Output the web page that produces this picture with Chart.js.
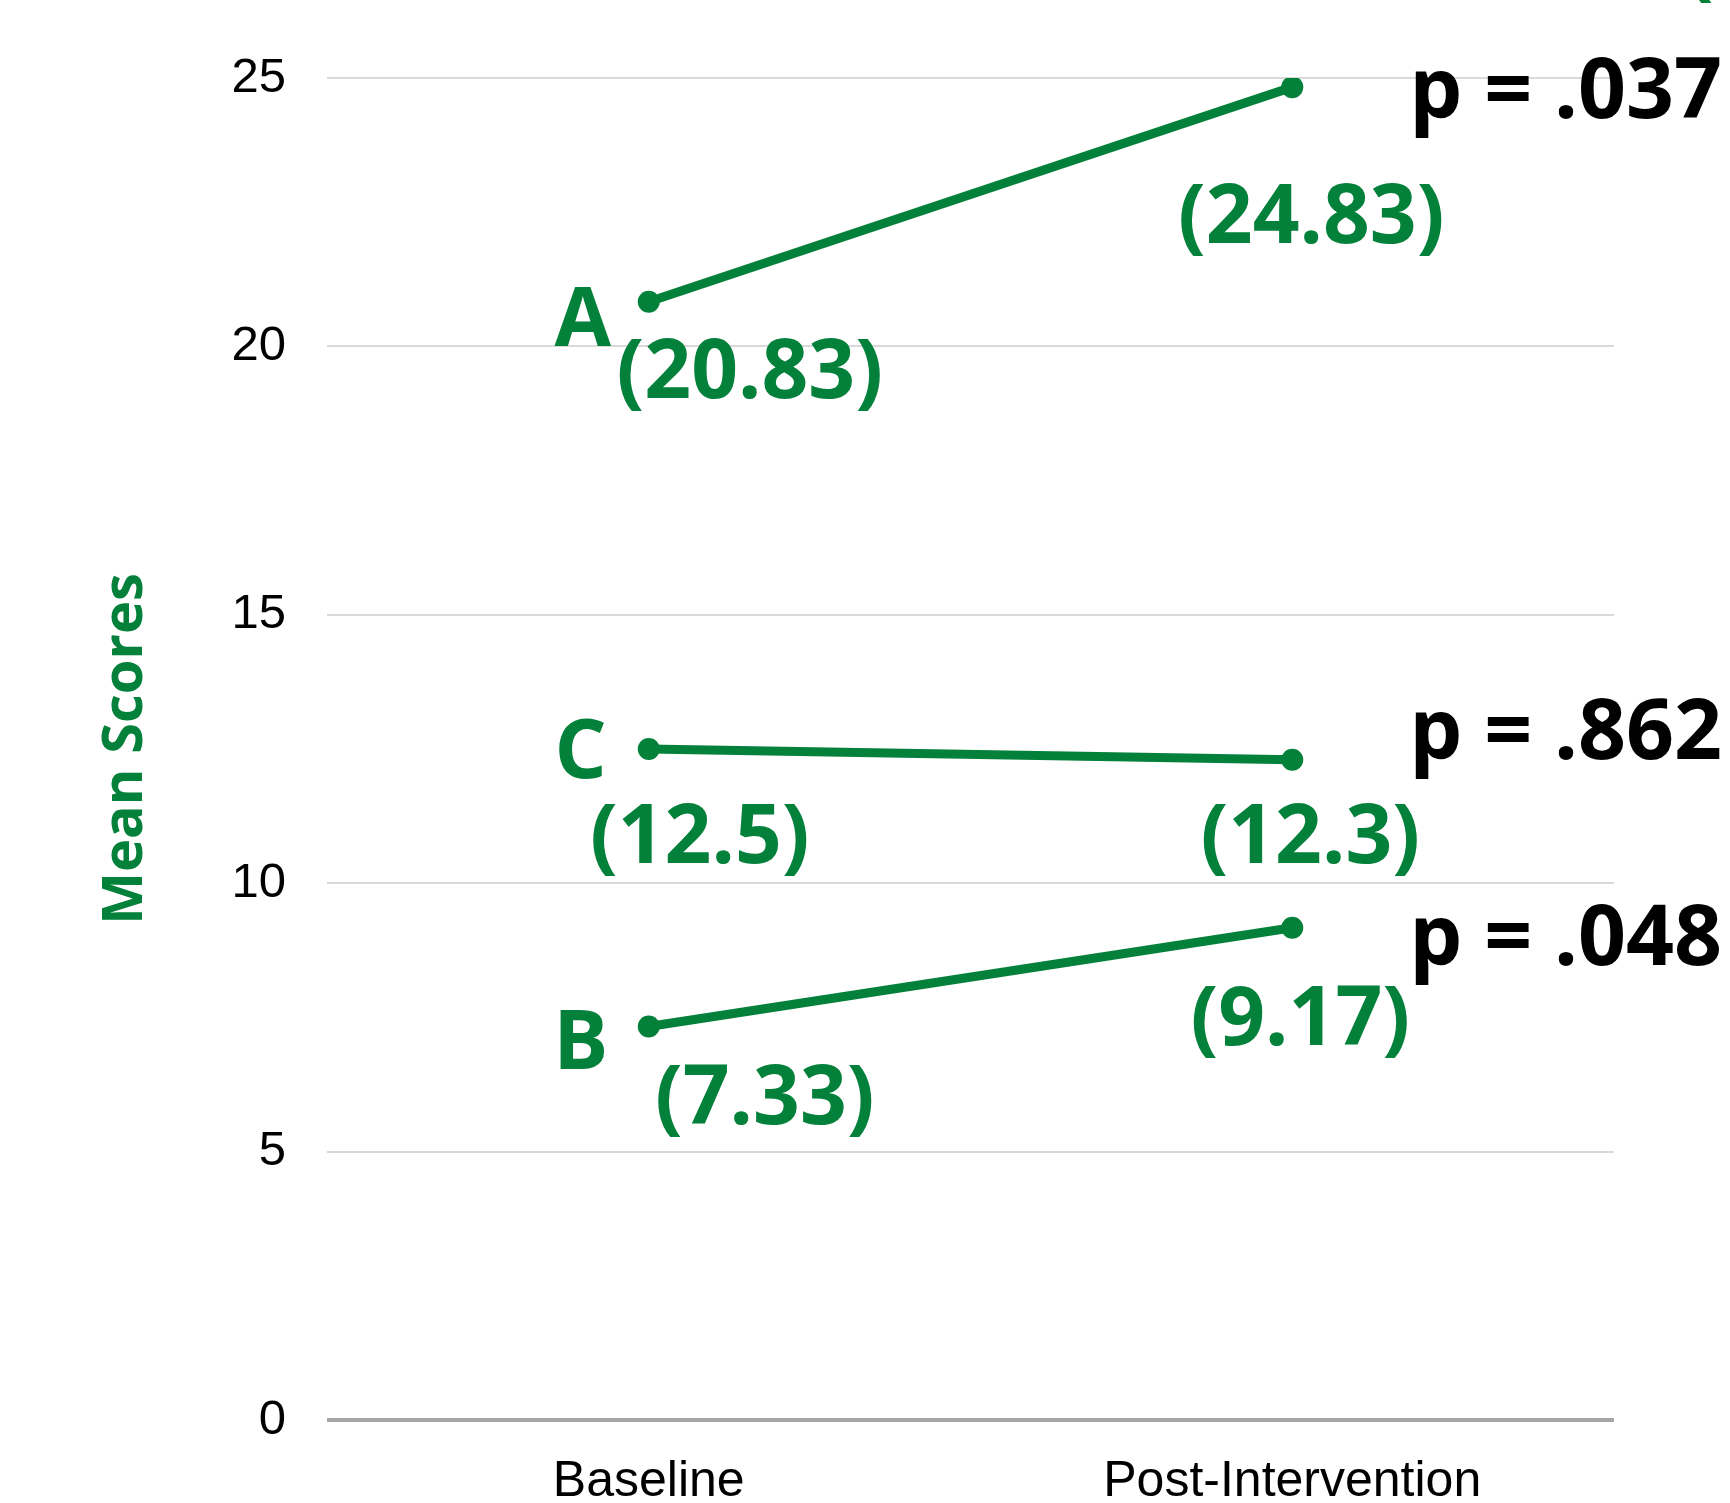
<!DOCTYPE html>
<html>
<head>
<meta charset="utf-8">
<script src="https://cdn.jsdelivr.net/npm/chart.js@4.4.0/dist/chart.umd.min.js"></script>
<style>
  html, body { margin: 0; padding: 0; background: #ffffff; }
  #wrap { width: 1730px; height: 1503px; }
</style>
</head>
<body>
<div id="wrap"><canvas id="chart" width="1730" height="1503"></canvas></div>
<script>
'use strict';

// ── DATA ──────────────────────────────────────────────────────────────────────
const categories = ['Baseline', 'Post-Intervention'];
const groupNames = ['A', 'C', 'B'];
const scoresA    = [20.83, 24.83];
const scoresC    = [12.5, 12.3];
const scoresB    = [7.33, 9.17];
const pValues    = ['.037', '.862', '.048'];
const yTicks     = [0, 5, 10, 15, 20, 25];

// ── STYLE ─────────────────────────────────────────────────────────────────────
const GREEN     = '#03803A';
const LABEL_FNT = 'bold 82px "Open Sans"';
const P_FNT     = 'bold 84px "Open Sans"';

// label offsets (px) from the data point they belong to, per group
// name → baseline point, val0 → baseline point, val1 / p → post point
const OFFSETS = [
  { name: [-66, 44], val0: [101, 96],  val1: [19, 156], p: [117, 31] },  // A
  { name: [-68, 29], val0: [51, 114],  val1: [18, 103], p: [117, -1] },  // C
  { name: [-68, 42], val0: [116, 97],  val1: [8, 117],  p: [117, 37] },  // B
];

const seriesList = [scoresA, scoresC, scoresB];

const labelPlugin = {
  id: 'groupLabels',
  afterDatasetsDraw(chart) {
    const ctx = chart.ctx;
    ctx.save();
    ctx.textBaseline = 'alphabetic';
    seriesList.forEach((vals, i) => {
      const pts = chart.getDatasetMeta(i).data;
      const off = OFFSETS[i];
      const p0 = pts[0], p1 = pts[1];

      ctx.fillStyle = GREEN;
      ctx.font = LABEL_FNT;
      ctx.textAlign = 'center';
      ctx.fillText(groupNames[i], p0.x + off.name[0], p0.y + off.name[1]);
      ctx.fillText(`(${vals[0]})`, p0.x + off.val0[0], p0.y + off.val0[1]);
      ctx.fillText(`(${vals[1]})`, p1.x + off.val1[0], p1.y + off.val1[1]);

      ctx.fillStyle = '#000000';
      ctx.font = P_FNT;
      ctx.textAlign = 'left';
      ctx.fillText(`p = ${pValues[i]}`, p1.x + off.p[0], p1.y + off.p[1]);
    });
    // cut-off bracket peeking in at the top right corner
    ctx.fillStyle = GREEN;
    ctx.font = LABEL_FNT;
    ctx.textAlign = 'left';
    ctx.fillText('(', chart.width - 44, -10);
    ctx.restore();
  },
};

function makeDataset(label, data) {
  return {
    label,
    data,
    borderColor: GREEN,
    backgroundColor: GREEN,
    borderWidth: 9,
    pointRadius: 11,
    pointHoverRadius: 11,
    pointBorderWidth: 0,
    tension: 0,
  };
}

new Chart(document.getElementById('chart'), {
  type: 'line',
  data: {
    labels: categories,
    datasets: [
      makeDataset(groupNames[0], scoresA),
      makeDataset(groupNames[1], scoresC),
      makeDataset(groupNames[2], scoresB),
    ],
  },
  options: {
    responsive: false,
    animation: false,
    events: [],
    layout: { padding: { top: 78, right: 116, bottom: 0, left: 0 } },
    plugins: {
      legend:  { display: false },
      tooltip: { enabled: false },
    },
    scales: {
      x: {
        offset: true,
        afterFit(s) { s.height = 83; },
        grid:   { display: false },
        border: { display: false },
        ticks:  {
          color: '#000000',
          font: { family: '"Liberation Sans", Arial, sans-serif', size: 50 },
          padding: 24,
        },
      },
      y: {
        min: 0,
        max: 25,
        afterFit(s) { s.width = 327; },
        afterBuildTicks(s) { s.ticks = yTicks.map(v => ({ value: v })); },
        grid: {
          drawTicks: false,
          color: c => (c.tick && c.tick.value === 0 ? '#a6a6a6' : '#d9d9d9'),
          lineWidth: c => (c.tick && c.tick.value === 0 ? 4 : 2),
        },
        border: { display: false },
        ticks: {
          color: '#000000',
          font: { family: '"Liberation Sans", Arial, sans-serif', size: 49 },
          padding: 41,
        },
        title: {
          display: true,
          text: 'Mean Scores',
          color: GREEN,
          font: { family: '"Open Sans"', size: 56, weight: 'bold' },
          padding: { top: 92, bottom: 0 },
        },
      },
    },
  },
  plugins: [labelPlugin],
});
</script>
</body>
</html>
